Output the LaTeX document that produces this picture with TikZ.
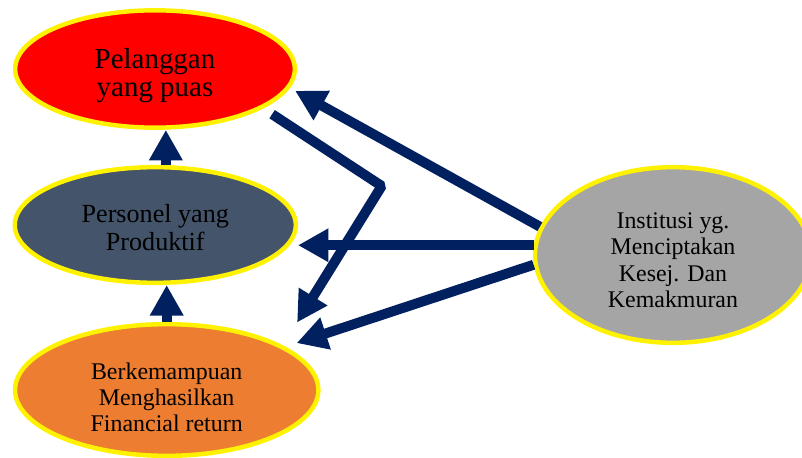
\documentclass[tikz,border=0pt]{standalone}
\usepackage{fontspec}
\setmainfont{Liberation Serif}
\usetikzlibrary{calc,shapes.geometric,arrows.meta}
\definecolor{navy}{HTML}{002060}
\definecolor{slate}{HTML}{44546A}
\definecolor{jingga}{HTML}{ED7D31}
\definecolor{abu}{HTML}{A5A5A5}

\tikzset{
  oval/.style={ellipse, draw=yellow, line width=3.8pt, inner sep=0pt},
  conn/.style={draw=navy, line width=8.5pt, -{Triangle[length=26pt,width=27pt]}},
  lbl/.style={align=center, anchor=base, text=black},
}

\begin{document}
\begin{tikzpicture}[x=0.03cm,y=-0.03cm]
\useasboundingbox (0,0) rectangle (802,458);
\clip (0,0) rectangle (802,458);

\node [oval, fill=red, minimum width=8.39cm, minimum height=3.52cm] (puas) at (155,69) {};
\node [oval, fill=slate, minimum width=8.43cm, minimum height=3.47cm] (prod) at (155.3,225) {};
\node [oval, fill=jingga, minimum width=9.1cm, minimum height=3.95cm] (fin) at (166.7,390) {};
\node [oval, fill=abu, minimum width=8.28cm, minimum height=5.27cm] (inst) at (673,255) {};

% base = last line
\node [lbl, font=\fontsize{24.7}{24.7}\selectfont] (tpuas) at ($(puas)+(0,28)$) {Pelanggan\\yang puas};
\node [lbl, font=\fontsize{22.3}{24.7}\selectfont] (tprod) at ($(prod)+(0,26)$) {Personel yang\\Produktif};
\node [lbl, font=\fontsize{20.4}{22.4}\selectfont] (tfin) at ($(fin)+(0,41.6)$) {Berkemampuan\\Menghasilkan\\Financial return};
\node [lbl, font=\fontsize{20.4}{22.7}\selectfont] (tinst) at ($(inst)+(0,53)$) {Institusi yg.\\Menciptakan\\Kesej. Dan\\Kemakmuran};

\coordinate (bend) at (381.7,186);

\draw [conn] (prod.80) -- (prod.80 |- puas.south);
\draw [conn] (fin.north) -- (fin.north |- prod.south);
\draw [conn, shorten >=5pt] (inst.168) -- (puas.-8);
\draw [conn] (inst.176) -- (inst.176 -| prod.east);
\draw [conn, shorten >=10pt] (inst.184) -- (fin.20);
\draw [conn, line join=bevel, shorten <=9pt, shorten >=23pt] (puas.-20) -- (bend) -- (fin.21);
\end{tikzpicture}
\end{document}
